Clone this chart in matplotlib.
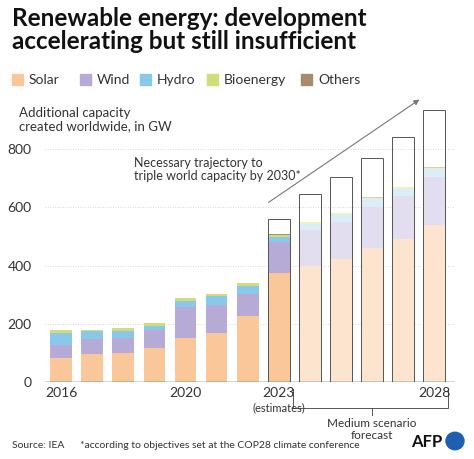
import matplotlib
matplotlib.use('Agg')
import matplotlib.pyplot as plt
from matplotlib.patches import Rectangle, Circle

plt.rcParams['font.family'] = ['Lato', 'DejaVu Sans']

years = [2016, 2017, 2018, 2019, 2020, 2021, 2022, 2023, 2024, 2025, 2026, 2027, 2028]
solar = [82, 97, 99, 117, 151, 170, 227, 374, 400, 421, 461, 493, 539]
wind = [46, 52, 52, 60, 106, 93, 76, 106, 122, 128, 142, 147, 167]
hydro = [41, 25, 24, 17, 23, 32, 28, 19, 21, 25, 26, 23, 25]
bioenergy = [8, 5, 9, 9, 8, 8, 8, 7, 6, 7, 5, 6, 6]
others = [1, 1, 1, 1, 1, 1, 1, 1, 1, 1, 1, 1, 1]
trajectory = [None] * 7 + [559, 645, 703, 771, 842, 935]

series = [('Solar', solar, '#f9c79a', '#fde4cf'),
          ('Wind', wind, '#b6aad6', '#e2def0'),
          ('Hydro', hydro, '#88c8ea', '#d9eef9'),
          ('Bioenergy', bioenergy, '#d3dc76', '#eef1c2'),
          ('Others', others, '#a88b6c', '#d9cbbb')]

fig = plt.figure(figsize=(4.74, 4.6), dpi=100)
ax = fig.add_axes([45 / 474, 77 / 460, 410 / 474, (383 - 92) / 460])
ax.set_xlim(-0.52, 12.67)
ax.set_ylim(0, 1000)

x = list(range(len(years)))
bottom = [0] * len(years)
for name, vals, c, cf in series:
    cols = [c if y <= 2023 else cf for y in years]
    ax.bar(x, vals, 0.7, bottom=bottom, color=cols, lw=0, zorder=2)
    bottom = [b + v for b, v in zip(bottom, vals)]
for i, t in enumerate(trajectory):
    if t is not None:
        ax.bar(i, t, 0.7, fill=False, edgecolor='#555555', lw=0.7, zorder=3)

for v in [200, 400, 600, 800]:
    ax.axhline(v, color='#cccccc', lw=0.6, ls=(0, (1, 2)), zorder=1)
ax.axhline(0, color='#333333', lw=1, zorder=4)
for s in ax.spines.values():
    s.set_visible(False)
ax.set_xticks([])
ax.set_yticks([])
for v in [0, 200, 400, 600, 800]:
    ax.text(-0.95, v, str(v), ha='right', va='center', fontsize=10, color='#333333')

ax.annotate('', xy=(11.6, 976), xytext=(6.6, 612),
            arrowprops=dict(arrowstyle='-|>', color='#777777', lw=0.8, mutation_scale=8))
ax.text(2.35, 800 - 22, 'Necessary trajectory to\ntriple world capacity by 2030*',
        fontsize=9, color='#333333', va='top', linespacing=1.1)

for i, lab in [(0, '2016'), (4, '2020'), (7, '2023'), (12, '2028')]:
    ax.text(i, -15, lab, ha='center', va='top', fontsize=10, color='#333333')
ax.text(7, -65, '(estimates)', ha='center', va='top', fontsize=8, color='#333333')
ax.plot([7.45, 7.45, 12.45, 12.45], [-25, -90, -90, -25], color='#555555', lw=0.7, clip_on=False)
ax.plot([10, 10], [-90, -115], color='#555555', lw=0.7, clip_on=False)
ax.text(10, -120, 'Medium scenario\nforecast', ha='center', va='top', fontsize=8.5,
        color='#333333', linespacing=1.1)

fig.text(12 / 474, 1 - 7 / 460, 'Renewable energy: development\naccelerating but still insufficient',
         fontsize=17.5, fontweight='bold', va='top', color='#111111', linespacing=1.0)

lx = 12
for name, vals, c, cf in series:
    fig.patches.append(Rectangle((lx / 474, 1 - 86 / 460), 11 / 474, 11 / 460,
                                 transform=fig.transFigure, color=c))
    fig.text((lx + 17) / 474, 1 - 80 / 460, name, fontsize=10, va='center', color='#333333')
    lx += 17 + {'Solar': 51, 'Wind': 43, 'Hydro': 50, 'Bioenergy': 77, 'Others': 50}[name]

fig.text(19 / 474, 1 - 107 / 460, 'Additional capacity\ncreated worldwide, in GW', fontsize=9.5,
         va='top', color='#333333', linespacing=1.1)

fig.text(12 / 474, 1 - 446 / 460, 'Source: IEA', fontsize=7.5, va='center', color='#333333')
fig.text(80 / 474, 1 - 446 / 460, '*according to objectives set at the COP28 climate conference',
         fontsize=7.5, va='center', color='#333333')
fig.text(442 / 474, 1 - 442 / 460, 'AFP', fontsize=12, fontweight='bold', ha='right',
         va='center', color='#111111')
fig.patches.append(Circle((455 / 474, 1 - 442 / 460), 9 / 474, transform=fig.transFigure,
                          color='#1f5fb0'))

fig.savefig('out.png', dpi=100)
